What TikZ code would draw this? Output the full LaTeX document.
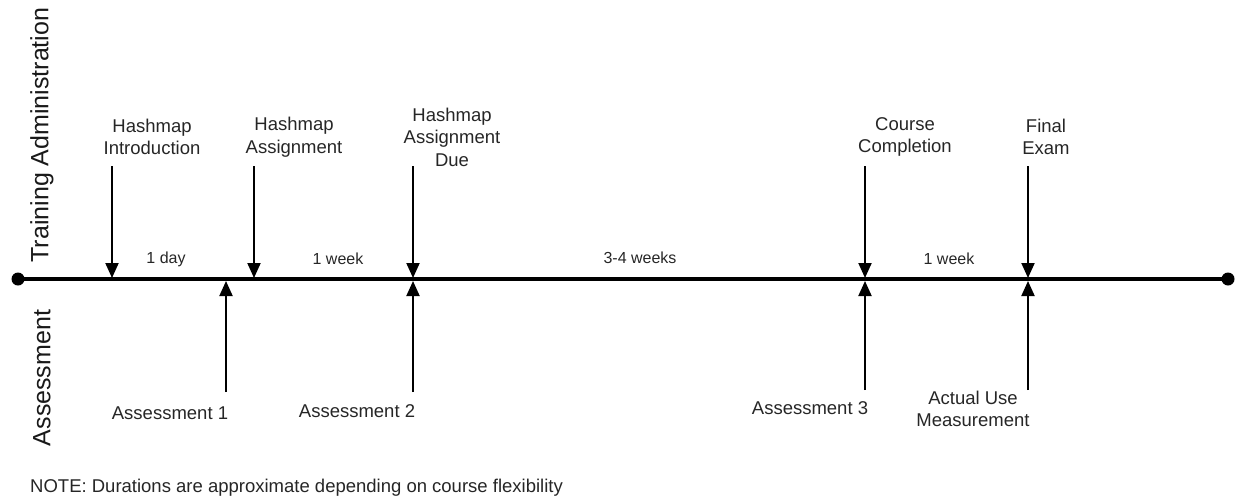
\documentclass[tikz,border=0pt]{standalone}
\usepackage{fontspec}
\setmainfont{Liberation Sans}
\usetikzlibrary{arrows.meta}
\tikzset{
  lbl/.style={align=center, inner sep=0pt, text=black!85, font=\fontsize{18.5}{22.5}\selectfont},
  dur/.style={inner sep=0pt, text=black!85, font=\fontsize{16}{19}\selectfont},
  lane/.style={inner sep=0pt, rotate=90, text=black!90, font=\fontsize{25}{30}\selectfont},
  evarrow/.style={line width=2pt, -{Triangle[length=15pt,width=13pt]}},
  mainline/.style={line width=3.5pt},
  enddot/.style={circle, fill=black, inner sep=0pt, minimum size=13pt}
}
\begin{document}
\begin{tikzpicture}[x=1pt,y=-1pt]
\useasboundingbox (0,0) rectangle (1236,499);
% timeline
\node[enddot] (L) at (18,279) {};
\node[enddot] (R) at (1228,279) {};
\draw[mainline] (L.center) -- (R.center);
% lane labels
\node[lane] (tadm) at (42,135) {Training Administration};
\node[lane] (asm) at (42,378) {Assessment};
% top events
\coordinate (t1s) at (112,166); \coordinate (t1e) at (112,278);
\coordinate (t2s) at (254,166); \coordinate (t2e) at (254,278);
\coordinate (t3s) at (413,166); \coordinate (t3e) at (413,278);
\coordinate (t4s) at (865,166); \coordinate (t4e) at (865,278);
\coordinate (t5s) at (1028,166); \coordinate (t5e) at (1028,278);
\foreach \i in {1,...,5} \draw[evarrow] (t\i s) -- (t\i e);
\node[lbl] (l1) at (152,137) {Hashmap\\Introduction};
\node[lbl] (l2) at (294,137) {Hashmap\\Assignment};
\node[lbl] (l3) at (452,137) {Hashmap\\Assignment\\Due};
\node[lbl] (l4) at (905,137) {Course\\Completion};
\node[lbl] (l5) at (1046,137) {Final\\Exam};
% bottom events
\coordinate (b1s) at (226,392); \coordinate (b1e) at (226,281);
\coordinate (b2s) at (413,392); \coordinate (b2e) at (413,281);
\coordinate (b3s) at (865,390); \coordinate (b3e) at (865,281);
\coordinate (b4s) at (1028,390); \coordinate (b4e) at (1028,281);
\foreach \i in {1,...,4} \draw[evarrow] (b\i s) -- (b\i e);
\node[lbl] (a1) at (170,413) {Assessment 1};
\node[lbl] (a2) at (357,411) {Assessment 2};
\node[lbl] (a3) at (810,408) {Assessment 3};
\node[lbl] (a4) at (973,409) {Actual Use\\Measurement};
% durations
\node[dur] (d1) at (166,259) {1 day};
\node[dur] (d2) at (338,259) {1 week};
\node[dur] (d3) at (640,258) {3-4 weeks};
\node[dur] (d4) at (949,259) {1 week};
% note
\node[lbl, anchor=west] (note) at (30,488) {NOTE: Durations are approximate depending on course flexibility};
\end{tikzpicture}
\end{document}
